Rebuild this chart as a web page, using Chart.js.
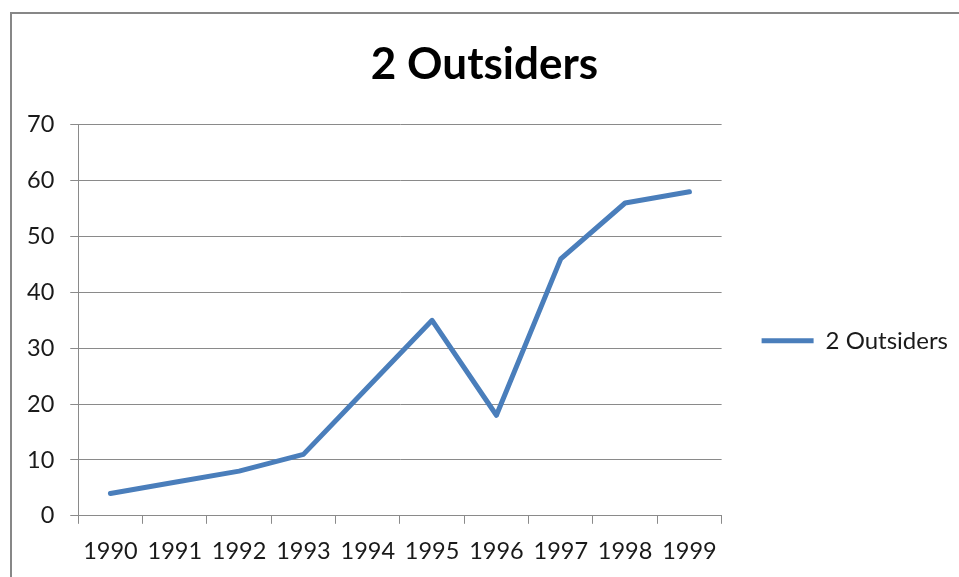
<!DOCTYPE html>
<html>
<head>
<meta charset="utf-8">
<title>2 Outsiders</title>
<script src="https://cdn.jsdelivr.net/npm/chart.js@4/dist/chart.umd.min.js"></script>
<style>
    html, body { margin: 0; padding: 0; overflow: hidden; background: #ffffff; }
    #quadro {
        position: absolute;
        left: 10px;
        top: 12px;
        width: 970px;
        height: 580px;
        border: 2px solid #878787;
        background: #ffffff;
    }
</style>
</head>
<body>
<div id="quadro">
    <canvas id="grafico" width="968" height="563"></canvas>
</div>
<script>
// dados
var anos = ['1990', '1991', '1992', '1993', '1994', '1995', '1996', '1997', '1998', '1999'];
var outsiders = [4, 6, 8, 11, 23, 35, 18, 46, 56, 58];
var nomeSerie = '2 Outsiders';
var tituloGrafico = '2 Outsiders';
var eixoY = { minimo: 0, maximo: 70, passo: 10 };

var azul = '#4a7ebb';
var cinza = '#8a8a8a';
var fonte = 'Lato, "Open Sans", "Liberation Sans", sans-serif';

document.addEventListener('DOMContentLoaded', function () {

    var contexto = document.getElementById('grafico').getContext('2d');

    window.meuGrafico = new Chart(contexto, {

        type: 'line',

        data: {
            labels: anos,
            datasets: [{
                label: nomeSerie,
                data: outsiders,
                borderColor: azul,
                backgroundColor: azul,
                borderWidth: 5,
                borderJoinStyle: 'round',
                borderCapStyle: 'round',
                pointRadius: 0,
                pointHoverRadius: 0,
                tension: 0,
                fill: false
            }]
        },

        options: {
            responsive: false,
            animation: false,
            layout: {
                // paddings negativos só ajustam a área do gráfico à posição do original
                padding: { left: -1, right: 22, top: 0, bottom: -3 }
            },
            plugins: {
                title: {
                    display: true,
                    text: tituloGrafico,
                    color: '#000000',
                    font: { family: fonte, size: 44, weight: 'bold' },
                    padding: { top: 24, bottom: 34 }
                },
                legend: {
                    position: 'right',
                    fullSize: false,
                    title: {
                        // título vazio: só serve para baixar a legenda como no original
                        display: true,
                        text: '',
                        font: { size: 10 },
                        padding: { top: 14, bottom: 15 }
                    },
                    labels: {
                        usePointStyle: true,
                        pointStyle: 'line',
                        pointStyleWidth: 52,
                        color: '#1a1a1a',
                        font: { family: fonte, size: 24 },
                        padding: 40
                    }
                },
                tooltip: { enabled: false }
            },
            scales: {
                x: {
                    offset: true,
                    grid: {
                        offset: true,
                        drawOnChartArea: false,
                        drawTicks: true,
                        tickLength: 8,
                        color: cinza,
                        lineWidth: 1
                    },
                    border: { display: true, color: cinza, width: 1 },
                    ticks: {
                        color: '#1a1a1a',
                        font: { family: fonte, size: 23.5 },
                        padding: 14,
                        maxRotation: 0,
                        autoSkip: false
                    }
                },
                y: {
                    min: eixoY.minimo,
                    max: eixoY.maximo,
                    grid: {
                        drawTicks: true,
                        tickLength: 8,
                        color: cinza,
                        lineWidth: 1
                    },
                    border: { display: true, color: cinza, width: 1 },
                    ticks: {
                        stepSize: eixoY.passo,
                        color: '#1a1a1a',
                        font: { family: fonte, size: 23.5 },
                        padding: 16
                    }
                }
            }
        }
    });
});
</script>
</body>
</html>
